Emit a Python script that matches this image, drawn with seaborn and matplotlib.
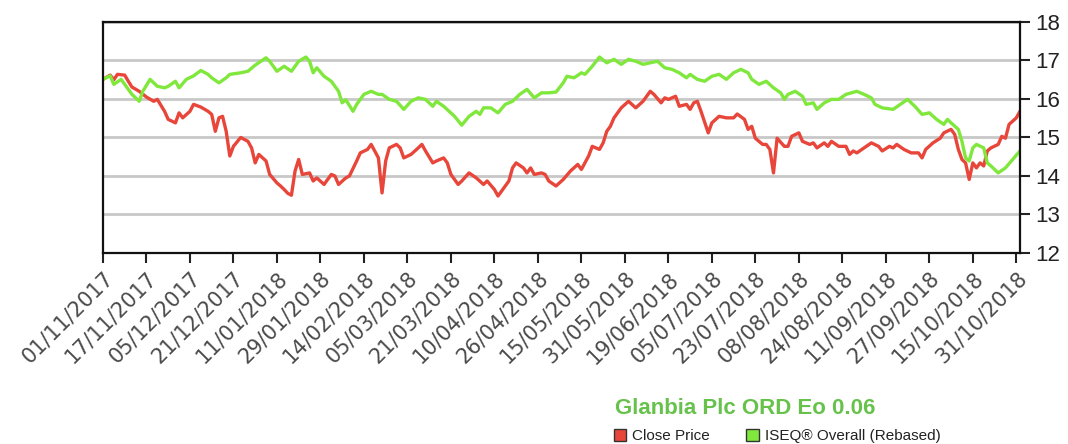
import matplotlib
matplotlib.use("Agg")
import matplotlib.pyplot as plt
from matplotlib.patches import Patch
import seaborn as sns
import pandas as pd

# x = trading-day number since 01/11/2017
tick_labels = ["01/11/2017", "17/11/2017", "05/12/2017", "21/12/2017", "11/01/2018",
               "29/01/2018", "14/02/2018", "05/03/2018", "21/03/2018", "10/04/2018",
               "26/04/2018", "15/05/2018", "31/05/2018", "19/06/2018", "05/07/2018",
               "23/07/2018", "08/08/2018", "24/08/2018", "11/09/2018", "27/09/2018",
               "15/10/2018", "31/10/2018"]

close_day = [0, 2, 3, 4, 6, 7, 8, 10, 12, 14, 15, 17, 18, 20, 21, 22, 24, 25, 27, 29,
             30, 31, 32, 33, 34, 35, 36, 38, 40, 41, 42, 43, 45, 46, 48, 49, 50, 51, 52, 53,
             54, 55, 57, 58, 59, 61, 63, 64, 65, 67, 68, 70, 71, 73, 74, 76, 77, 78, 79, 81,
             82, 83, 85, 87, 88, 89, 91, 92, 94, 95, 96, 98, 99, 101, 103, 105, 106, 108, 109, 110,
             112, 113, 114, 116, 117, 118, 119, 121, 122, 123, 125, 127, 129, 131, 132, 134, 135, 137, 138, 139,
             140, 141, 143, 145, 147, 149, 150, 151, 152, 154, 155, 156, 158, 159, 161, 162, 163, 164, 165, 166,
             167, 168, 170, 172, 174, 175, 177, 178, 179, 180, 182, 183, 184, 185, 186, 188, 189, 190, 192, 193,
             195, 196, 197, 199, 200, 201, 203, 205, 206, 207, 208, 210, 212, 214, 215, 217, 218, 219, 221, 223,
             225, 226, 227, 229, 231, 232, 234, 235, 236, 237, 238, 239, 240, 241, 242, 243, 244, 245, 247, 248,
             249, 250, 252, 253]
close_price = [16.51, 16.62, 16.50, 16.64, 16.62, 16.46, 16.31, 16.20, 16.05, 15.94, 15.99, 15.68, 15.47, 15.38, 15.64, 15.51, 15.68, 15.86, 15.79, 15.68,
               15.60, 15.16, 15.51, 15.55, 15.16, 14.52, 14.77, 15.00, 14.90, 14.73, 14.34, 14.56, 14.39, 14.04, 13.82, 13.74, 13.65, 13.55, 13.50, 14.13,
               14.43, 14.04, 14.08, 13.87, 13.95, 13.78, 14.04, 14.00, 13.78, 13.95, 14.00, 14.39, 14.60, 14.69, 14.82, 14.47, 13.56, 14.39, 14.73, 14.82,
               14.73, 14.47, 14.56, 14.73, 14.82, 14.65, 14.34, 14.39, 14.47, 14.34, 14.04, 13.78, 13.87, 14.08, 13.95, 13.78, 13.87, 13.65, 13.48, 13.61,
               13.87, 14.21, 14.34, 14.21, 14.08, 14.21, 14.04, 14.08, 14.04, 13.87, 13.74, 13.91, 14.13, 14.30, 14.17, 14.52, 14.77, 14.69, 14.86, 15.16,
               15.29, 15.51, 15.77, 15.94, 15.77, 15.94, 16.07, 16.20, 16.12, 15.90, 16.03, 15.99, 16.07, 15.81, 15.86, 15.73, 15.90, 15.94, 15.68, 15.40,
               15.12, 15.38, 15.55, 15.51, 15.51, 15.61, 15.47, 15.21, 15.29, 14.98, 14.82, 14.82, 14.69, 14.08, 14.98, 14.77, 14.77, 15.03, 15.12, 14.90,
               14.82, 14.86, 14.73, 14.86, 14.77, 14.90, 14.77, 14.77, 14.56, 14.65, 14.60, 14.73, 14.86, 14.77, 14.65, 14.77, 14.73, 14.82, 14.69, 14.60,
               14.60, 14.47, 14.69, 14.86, 14.98, 15.12, 15.21, 15.08, 14.69, 14.43, 14.34, 13.91, 14.34, 14.21, 14.34, 14.26, 14.65, 14.73, 14.82, 15.03,
               14.98, 15.34, 15.51, 15.68]

iseq_day = [0, 2, 3, 5, 6, 8, 10, 11, 13, 15, 17, 18, 20, 21, 23, 25, 27, 29, 30, 32,
            34, 35, 38, 40, 42, 45, 46, 48, 50, 52, 54, 56, 57, 58, 59, 61, 63, 65, 66, 67,
            69, 70, 72, 74, 76, 77, 79, 81, 83, 85, 87, 89, 91, 92, 94, 97, 99, 101, 103, 104,
            105, 107, 109, 111, 113, 115, 117, 119, 121, 123, 125, 127, 128, 130, 132, 133, 135, 137, 139, 141,
            143, 145, 147, 149, 151, 153, 155, 157, 159, 161, 162, 164, 166, 168, 170, 172, 174, 176, 178, 179,
            181, 183, 185, 187, 188, 189, 191, 193, 194, 196, 197, 199, 201, 203, 205, 208, 210, 212, 213, 215,
            218, 220, 222, 224, 226, 228, 230, 232, 233, 234, 236, 237, 238, 239, 240, 241, 243, 244, 245, 247,
            249, 251, 253]
iseq_rebased = [16.51, 16.60, 16.38, 16.51, 16.38, 16.12, 15.94, 16.20, 16.51, 16.33, 16.29, 16.33, 16.46, 16.29, 16.51, 16.60, 16.74, 16.64, 16.55, 16.42,
                16.55, 16.64, 16.68, 16.72, 16.88, 17.07, 16.98, 16.72, 16.85, 16.72, 16.98, 17.09, 16.98, 16.68, 16.81, 16.59, 16.46, 16.20, 15.90, 15.98,
                15.68, 15.86, 16.12, 16.20, 16.12, 16.12, 15.99, 15.94, 15.73, 15.94, 16.03, 15.99, 15.81, 15.94, 15.81, 15.55, 15.32, 15.55, 15.68, 15.60,
                15.77, 15.77, 15.64, 15.86, 15.94, 16.12, 16.25, 16.03, 16.16, 16.16, 16.18, 16.42, 16.59, 16.55, 16.68, 16.64, 16.85, 17.09, 16.94, 17.03,
                16.90, 17.03, 16.98, 16.90, 16.94, 16.98, 16.81, 16.77, 16.68, 16.55, 16.64, 16.51, 16.46, 16.59, 16.64, 16.51, 16.68, 16.77, 16.68, 16.51,
                16.38, 16.46, 16.29, 16.16, 15.99, 16.12, 16.20, 16.07, 15.86, 15.90, 15.73, 15.90, 15.99, 15.99, 16.12, 16.20, 16.12, 16.03, 15.86, 15.77,
                15.73, 15.86, 15.99, 15.81, 15.60, 15.64, 15.47, 15.34, 15.47, 15.38, 15.21, 14.90, 14.47, 14.39, 14.73, 14.82, 14.73, 14.34, 14.26, 14.08,
                14.21, 14.43, 14.65]

red = "#e8463a"
green = "#80e83c"

df = pd.concat([
    pd.DataFrame({"day": close_day, "value": close_price, "series": "Close Price"}),
    pd.DataFrame({"day": iseq_day, "value": iseq_rebased, "series": "ISEQ\u00ae Overall (Rebased)"}),
])

sns.set_style("white")
plt.rcParams["font.family"] = ["Liberation Sans", "DejaVu Sans"]

fig = plt.figure(figsize=(10.68, 4.44), dpi=100)
ax = fig.add_axes([0.0964, 0.4302, 0.8586, 0.5203])

sns.lineplot(data=df, x="day", y="value", hue="series",
             palette={"Close Price": red, "ISEQ\u00ae Overall (Rebased)": green},
             linewidth=2.4, legend=False, ax=ax)

ax.set_xlim(0, 253)
ax.set_ylim(12, 18)
ax.set_xlabel("")
ax.set_ylabel("")
ax.yaxis.tick_right()
ax.set_yticks(range(12, 19))
ax.set_xticks(range(0, 253, 12))
ax.set_xticklabels(tick_labels, rotation=45, ha="right", rotation_mode="anchor",
                   fontsize=15, color="#4a4a4a", family="DejaVu Sans")
ax.tick_params(axis="x", direction="out", length=7, width=1.5, color="#222222", bottom=True, pad=4)
ax.tick_params(axis="y", direction="out", length=7, width=1.5, color="#222222", right=True,
               labelright=True, labelsize=16, labelcolor="#222222", pad=4)
ax.yaxis.grid(True, color="#c8c8c8", linewidth=2)
ax.xaxis.grid(False)
for sp in ax.spines.values():
    sp.set_color("#111111")
    sp.set_linewidth(1.6)

fig.text(0.6976, 0.081, "Glanbia Plc ORD Eo 0.06", color="#66c24a", fontsize=16,
         fontweight="bold", ha="center", va="center")

handles = [Patch(facecolor=red, edgecolor="#333333", label="Close Price"),
           Patch(facecolor=green, edgecolor="#333333", label="ISEQ\u00ae Overall (Rebased)")]
fig.legend(handles=handles, loc="center", bbox_to_anchor=(0.7275, 0.018), ncol=2,
           frameon=False, fontsize=11, handlelength=0.8, handleheight=0.8,
           handletextpad=0.4, columnspacing=2.4, labelcolor="#222222")

fig.savefig("out.png", dpi=100)
